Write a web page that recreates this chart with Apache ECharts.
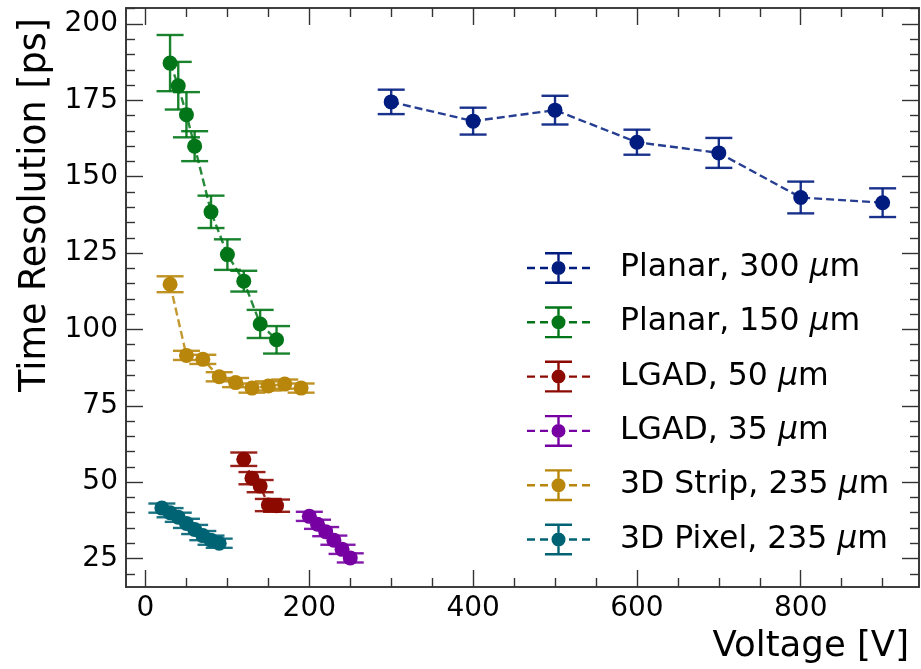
<!DOCTYPE html>
<html>
<head>
<meta charset="utf-8">
<script src="https://cdn.jsdelivr.net/npm/echarts@6/dist/echarts.min.js"></script>
<style>
html, body { margin: 0; padding: 0; background: #fff; }
#main { width: 921px; height: 669px; }
</style>
</head>
<body>
<div id="main"></div>
<script>
// Planar, 300 um
var planar300V = [300, 400, 500, 600, 700, 800, 900];
var planar300T = [174.5, 168.2, 171.8, 161.3, 157.8, 143.2, 141.5];
var planar300E = [4.0, 4.4, 4.7, 4.1, 4.9, 5.2, 4.7];
// Planar, 150 um
var planar150V = [30, 40, 50, 60, 80, 100, 120, 140, 160];
var planar150T = [187.2, 179.8, 170.3, 160.0, 138.5, 124.5, 115.8, 101.8, 96.6];
var planar150E = [9.2, 7.8, 7.4, 4.9, 5.3, 5.0, 3.4, 4.6, 4.5];
// LGAD, 50 um
var lgad50V = [120, 130, 140, 150, 160];
var lgad50T = [57.5, 51.3, 48.7, 42.5, 42.3];
var lgad50E = [2.2, 2.0, 2.0, 2.0, 2.0];
// LGAD, 35 um
var lgad35V = [200, 210, 220, 230, 240, 250];
var lgad35T = [38.8, 36.2, 33.8, 31.0, 28.0, 25.2];
var lgad35E = [1.5, 1.5, 1.5, 1.5, 1.5, 1.5];
// 3D Strip, 235 um
var strip3dV = [30, 50, 70, 90, 110, 130, 150, 170, 190];
var strip3dT = [114.8, 91.5, 90.2, 84.5, 82.6, 80.8, 81.5, 82.1, 80.8];
var strip3dE = [2.6, 1.5, 1.5, 1.5, 1.5, 1.5, 1.5, 1.5, 1.5];
// 3D Pixel, 235 um
var pixel3dV = [20, 30, 40, 50, 60, 70, 80, 90];
var pixel3dT = [41.5, 40.0, 38.5, 36.5, 34.5, 32.5, 31.0, 30.0];
var pixel3dE = [1.5, 1.5, 1.5, 1.5, 1.5, 1.5, 1.5, 1.5];

var seriesNames = ['Planar, 300 μm', 'Planar, 150 μm', 'LGAD, 50 μm', 'LGAD, 35 μm', '3D Strip, 235 μm', '3D Pixel, 235 μm'];
var seriesColors = ['#001c7f', '#017517', '#8c0900', '#7600a1', '#b8860b', '#006374'];

// tick labels / tick positions
var xMajorTicks = [0, 200, 400, 600, 800];
var xMinorTicks = [50, 100, 150, 250, 300, 350, 450, 500, 550, 650, 700, 750, 850, 900];
var yMajorTicks = [25, 50, 75, 100, 125, 150, 175, 200];
var yMinorTicks = [20, 30, 35, 40, 45, 55, 60, 65, 70, 80, 85, 90, 95, 105, 110, 115, 120,
    130, 135, 140, 145, 155, 160, 165, 170, 180, 185, 190, 195, 205];

var groups = [
    [planar300V, planar300T, planar300E],
    [planar150V, planar150T, planar150E],
    [lgad50V, lgad50T, lgad50E],
    [lgad35V, lgad35T, lgad35E],
    [strip3dV, strip3dT, strip3dE],
    [pixel3dV, pixel3dT, pixel3dE]
];

var FONT = 'DejaVu Sans';
var xMin = -23.8, xMax = 944.4;
var yMin = 15.67, yMax = 205.24;
var frameColor = '#333';

// error bar drawn as vertical line + two caps
function errorBarItem(params, api) {
    var x = api.value(0), y = api.value(1), e = api.value(2);
    var top = api.coord([x, y + e]);
    var bot = api.coord([x, y - e]);
    var cap = 13.5;
    var style = { stroke: api.visual('color'), lineWidth: 2.4, opacity: 0.9 };
    return {
        type: 'group',
        children: [
            { type: 'line', shape: { x1: top[0], y1: top[1], x2: bot[0], y2: bot[1] }, style: style },
            { type: 'line', shape: { x1: top[0] - cap, y1: top[1], x2: top[0] + cap, y2: top[1] }, style: style },
            { type: 'line', shape: { x1: bot[0] - cap, y1: bot[1], x2: bot[0] + cap, y2: bot[1] }, style: style }
        ]
    };
}

var series = [];
groups.forEach(function (g, i) {
    var pts = g[0].map(function (v, k) { return [v, g[1][k]]; });
    var errs = g[0].map(function (v, k) { return [v, g[1][k], g[2][k]]; });
    series.push({
        name: 'err' + i,
        type: 'custom',
        renderItem: errorBarItem,
        itemStyle: { color: seriesColors[i] },
        encode: { x: 0, y: 1 },
        data: errs,
        z: 2 + i * 2,
        silent: true
    });
    series.push({
        name: seriesNames[i],
        type: 'line',
        data: pts,
        symbol: 'circle',
        symbolSize: 15,
        showSymbol: true,
        itemStyle: { color: seriesColors[i] },
        lineStyle: { color: seriesColors[i], width: 2.4, type: [8, 4], opacity: 0.85 },
        z: 3 + i * 2
    });
});

function valueAxis(pos, min, max, ticks, len, showLabel) {
    return {
        type: 'value',
        position: pos,
        min: min,
        max: max,
        axisLine: { show: true, onZero: false, lineStyle: { color: frameColor, width: 1.6 } },
        axisTick: { show: true, inside: true, length: len, customValues: ticks, lineStyle: { color: frameColor, width: 1.4 } },
        axisLabel: showLabel ? {
            show: true, customValues: ticks, color: '#000', fontFamily: FONT, fontSize: 28, margin: 8
        } : { show: false },
        splitLine: { show: false }
    };
}

var chart = echarts.init(document.getElementById('main'));
var legendIcon = 'path://M0 14.8h8v2.4h-8z M13 14.8h8v2.4h-8z M42 14.8h8v2.4h-8z M55 14.8h8v2.4h-8z ' +
    'M30.3 2.4h2.4v6.6h-2.4z M30.3 23h2.4v6.6h-2.4z M18 0h27v2.4h-27z M18 29.6h27v2.4h-27z ' +
    'M24.5 16a7 7 0 1 0 14 0a7 7 0 1 0 -14 0z';

chart.setOption({
    animation: false,
    backgroundColor: '#fff',
    grid: { left: 126, top: 8, width: 793, height: 579, containLabel: false },
    xAxis: [
        valueAxis('bottom', xMin, xMax, xMajorTicks, 17, true),
        valueAxis('bottom', xMin, xMax, xMinorTicks, 9, false),
        valueAxis('top', xMin, xMax, xMajorTicks, 17, false),
        valueAxis('top', xMin, xMax, xMinorTicks, 9, false)
    ],
    yAxis: [
        valueAxis('left', yMin, yMax, yMajorTicks, 17, true),
        valueAxis('left', yMin, yMax, yMinorTicks, 9, false),
        valueAxis('right', yMin, yMax, yMajorTicks, 17, false),
        valueAxis('right', yMin, yMax, yMinorTicks, 9, false)
    ],
    legend: {
        data: seriesNames,
        orient: 'vertical',
        left: 522,
        top: 247,
        itemWidth: 63,
        itemHeight: 32,
        itemGap: 22.3,
        icon: legendIcon,
        itemStyle: { borderWidth: 0 },
        selectedMode: false,
        formatter: function (name) { return name.replace('μ', '{i|μ}'); },
        textStyle: {
            fontFamily: FONT, fontSize: 31.5, color: '#000', padding: [0, 0, 0, 25],
            rich: { i: { fontFamily: FONT, fontSize: 31.5, fontStyle: 'italic', color: '#000' } }
        }
    },
    graphic: [
        {
            type: 'text', x: 909, y: 629,
            style: { text: 'Voltage [V]', font: '35.5px "DejaVu Sans"', fill: '#000', align: 'right', verticalAlign: 'top' }
        },
        {
            type: 'text', x: 17, y: 18, rotation: Math.PI / 2,
            style: { text: 'Time Resolution [ps]', font: '36.5px "DejaVu Sans"', fill: '#000', align: 'right', verticalAlign: 'top' }
        }
    ],
    series: series
});
</script>
</body>
</html>
